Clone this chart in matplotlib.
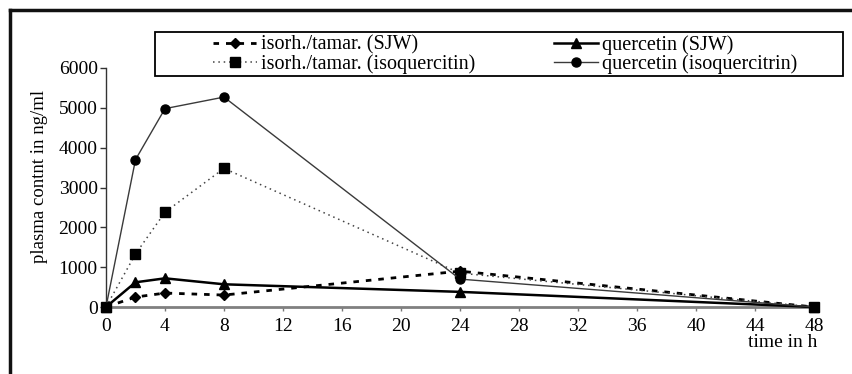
import matplotlib
matplotlib.use("Agg")
import matplotlib.pyplot as plt
from matplotlib.patches import Rectangle
from matplotlib.lines import Line2D

plt.rcParams['font.family'] = ['Liberation Serif', 'DejaVu Serif']

# sampling times (h) and plasma levels (ng/ml)
hours = [0, 2, 4, 8, 24, 48]
isorh_sjw = [0, 250, 350, 300, 900, 0]
isorh_isoq = [0, 1330, 2380, 3480, 850, 0]
querc_sjw = [0, 620, 720, 570, 380, 0]
querc_isoq = [0, 3700, 4980, 5270, 700, 0]

series_labels = ["isorh./tamar. (SJW)", "isorh./tamar. (isoquercitin)",
                 "quercetin (SJW)", "quercetin (isoquercitrin)"]

x_ticks = list(range(0, 49, 4))
y_ticks = list(range(0, 6001, 1000))

fig = plt.figure(figsize=(8.53, 3.74), dpi=100)
ax = fig.add_axes([106 / 853, 1 - 307 / 374, (814 - 106) / 853, (307 - 68) / 374])

l1, = ax.plot(hours, isorh_sjw, color='black', lw=2.0, linestyle=(0, (2.0, 2.5)),
              marker='D', ms=5.5, mfc='black', mec='black', clip_on=False, zorder=4)
l2, = ax.plot(hours, isorh_isoq, color='#444444', lw=1.1, linestyle=(0, (1, 2.5)),
              marker='s', ms=6.5, mfc='black', mec='black', clip_on=False, zorder=4)
l3, = ax.plot(hours, querc_sjw, color='black', lw=1.8, linestyle='-',
              marker='^', ms=6.5, mfc='black', mec='black', clip_on=False, zorder=4)
l4, = ax.plot(hours, querc_isoq, color='#3a3a3a', lw=1.0, linestyle='-',
              marker='o', ms=6.5, mfc='black', mec='black', clip_on=False, zorder=4)

ax.set_xlim(0, 48)
ax.set_ylim(0, 6000)
ax.set_xticks(x_ticks)
ax.set_yticks(y_ticks)
ax.tick_params(axis='both', labelsize=14)
ax.tick_params(axis='y', direction='out', length=4, width=1, color='#333333', pad=2)
ax.tick_params(axis='x', direction='out', length=3, width=1, color='#777777', pad=5)

for side in ('top', 'right'):
    ax.spines[side].set_visible(False)
ax.spines['left'].set_color('#333333')
ax.spines['left'].set_linewidth(1.0)
ax.spines['bottom'].set_color('#808080')
ax.spines['bottom'].set_linewidth(2.0)

ax.set_ylabel("plasma contnt in ng/ml", fontsize=13.5)
ax.yaxis.set_label_coords(-0.082, 0.548)
ax.text(1.005, -0.115, "time in h", transform=ax.transAxes, ha='right', va='top', fontsize=14)

# legend: frame drawn separately, entries placed inside
fig.patches.append(Rectangle((155 / 853, 1 - 76 / 374), (843 - 155) / 853, 44 / 374,
                             transform=fig.transFigure, fill=True, facecolor='white',
                             edgecolor='black', lw=1.3, zorder=5))
leg = fig.legend([l1, l2, l3, l4], series_labels, ncol=2, frameon=False,
                 loc='upper left', bbox_to_anchor=(209 / 853, 1 - 31 / 374),
                 borderaxespad=0, fontsize=14.5, handlelength=2.2, handletextpad=0.2,
                 columnspacing=3.9, labelspacing=0.0, borderpad=0.2)
leg.set_zorder(6)

# outer frame, top and left edges
fig.add_artist(Line2D([10 / 853, 1.0], [1 - 10 / 374, 1 - 10 / 374],
                      transform=fig.transFigure, color='#111111', lw=2.5))
fig.add_artist(Line2D([10 / 853, 10 / 853], [0.0, 1 - 10 / 374],
                      transform=fig.transFigure, color='#111111', lw=2.5))

fig.savefig("out.png", dpi=100)
